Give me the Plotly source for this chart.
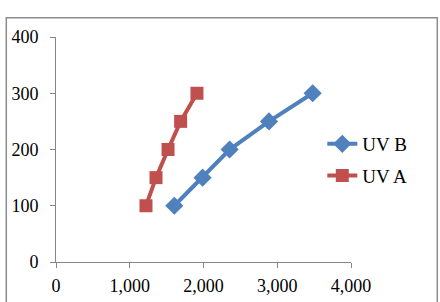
import plotly.graph_objects as go

uvb_x = [1604, 1988, 2354, 2888, 3480]
uvb_y = [100, 150, 200, 250, 300]
uva_x = [1220, 1356, 1519, 1690, 1911]
uva_y = [100, 150, 200, 250, 300]
x_ticks = [0, 1000, 2000, 3000, 4000]
x_labels = ["0", "1,000", "2,000", "3,000", "4,000"]
y_ticks = [0, 100, 200, 300, 400]

W, H = 440, 302
L, R, T, B = 55.7, 89.3, 37.3, 40.3
pw, ph = W - L - R, H - T - B

fig = go.Figure()
fig.add_trace(go.Scatter(x=uvb_x, y=uvb_y, name="UV B", mode="lines+markers",
                         line=dict(color="#4F81BD", width=4),
                         marker=dict(symbol="diamond", size=14, color="#4F81BD"),
                         legendgroup="b"))
fig.add_trace(go.Scatter(x=uva_x, y=uva_y, name="UV A", mode="lines+markers",
                         line=dict(color="#C0504D", width=4),
                         marker=dict(symbol="square", size=13, color="#C0504D"),
                         legendgroup="a"))

def px_x(p):
    return (p - L) / pw

def px_y(p):
    return (H - B - p) / ph

FONT = "Times New Roman, Liberation Serif, serif"

fig.update_layout(
    width=W, height=H,
    margin=dict(l=L, r=R, t=T, b=B, autoexpand=False),
    paper_bgcolor="white", plot_bgcolor="white",
    font=dict(family=FONT, size=18, color="black"),
    xaxis=dict(range=[0, 4000], tickvals=x_ticks, ticktext=x_labels,
               showgrid=False, zeroline=False, showline=True, linecolor="#868686",
               linewidth=1, ticks="outside", ticklen=5, tickcolor="#868686",
               ticklabelstandoff=2, automargin=False, fixedrange=True),
    yaxis=dict(range=[0, 400], tickvals=y_ticks, showgrid=False, zeroline=False,
               showline=True, linecolor="#868686", linewidth=1, ticks="outside",
               ticklen=5, tickcolor="#868686", ticklabelstandoff=8,
               automargin=False, fixedrange=True),
    legend=dict(x=px_x(322), y=px_y(125), xanchor="left", yanchor="top",
                traceorder="grouped", tracegroupgap=4,
                font=dict(family=FONT, size=19), bgcolor="rgba(0,0,0,0)"),
    shapes=[dict(type="rect", xref="paper", yref="paper",
                 x0=px_x(6), x1=px_x(437), y0=px_y(310), y1=px_y(18),
                 line=dict(color="#8C8C8C", width=1.5), layer="below")],
)
fig.write_html("out.html")
